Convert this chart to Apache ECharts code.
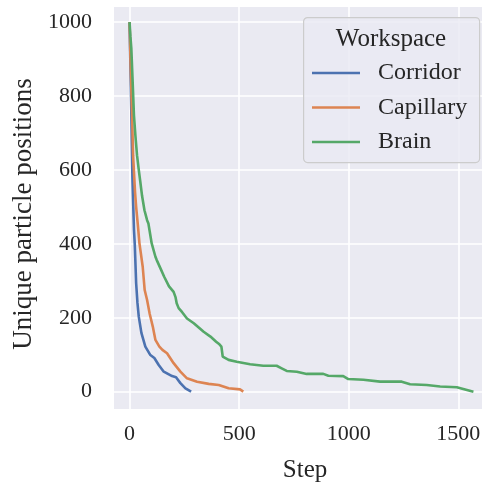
<!DOCTYPE html>
<html>
<head>
<meta charset="utf-8">
<script src="https://cdn.jsdelivr.net/npm/echarts@6/dist/echarts.min.js"></script>
<style>html,body{margin:0;padding:0;background:#fff;}#c{width:482px;height:482px;}</style>
</head>
<body>
<div id="c"></div>
<script>
const seriesNames = ["Corridor", "Capillary", "Brain"];
const xTicks = [0, 500, 1000, 1500];
const yTicks = [0, 200, 400, 600, 800, 1000];

const corridorSteps = [0, 4, 7, 10, 13, 17, 20, 24, 30, 36, 42, 54, 72, 95, 113, 133, 156, 194, 212, 232, 255, 281];
const corridorVals  = [1000, 880, 790, 680, 580, 500, 440, 395, 294, 240, 203, 159, 122, 99, 91, 72, 54, 42, 39, 23, 9, 0];

const capillarySteps = [0, 5, 11, 16, 25, 30, 38, 45, 60, 69, 80, 92, 106, 118, 136, 150, 171, 201, 232, 262, 308, 361, 407, 452, 504, 519];
const capillaryVals  = [1000, 880, 760, 640, 540, 500, 450, 402, 338, 275, 248, 210, 176, 140, 122, 113, 104, 77, 54, 36, 27, 21, 18, 9, 6, 0];

const brainSteps = [0, 4, 8, 14, 20, 27, 34, 42, 49, 57, 68, 80, 86, 101, 118, 124, 140, 158, 180, 201, 210, 215, 224, 240, 262, 293, 338, 369, 395, 410, 419, 425, 452, 489, 550, 610, 671, 694, 717, 763, 808, 884, 907, 975, 998, 1067, 1143, 1242, 1280, 1356, 1417, 1493, 1531, 1569];
const brainVals  = [1000, 960, 929, 840, 748, 690, 640, 600, 568, 530, 491, 464, 455, 401, 365, 356, 335, 311, 285, 270, 255, 239, 226, 215, 198, 185, 162, 149, 135, 128, 122, 95, 86, 81, 74, 70, 70, 63, 56, 54, 48, 48, 43, 42, 34, 32, 27, 27, 20, 18, 14, 12, 6, 0];

const colors = ["#4c72b0", "#dd8452", "#55a868"];
const FONT = "Liberation Serif";
const TXT = "#262626";

function pairs(xs, ys) { return xs.map((x, i) => [x, ys[i]]); }
const allData = [pairs(corridorSteps, corridorVals), pairs(capillarySteps, capillaryVals), pairs(brainSteps, brainVals)];

const chart = echarts.init(document.getElementById('c'), null, {renderer: 'canvas'});
chart.setOption({
  animation: false,
  backgroundColor: '#ffffff',
  grid: {left: 114, right: -7, top: 7, bottom: 73, show: true, backgroundColor: '#eaeaf2', borderWidth: 0,
         containLabel: false, outerBoundsMode: 'none'},
  xAxis: {
    type: 'value', min: -71, max: 1640,
    name: 'Step', nameLocation: 'middle', nameGap: 49,
    nameTextStyle: {fontFamily: FONT, fontSize: 25, color: TXT, padding: [0, 0, 0, 7]},
    axisLine: {show: false},
    axisTick: {show: false, customValues: xTicks},
    axisLabel: {customValues: xTicks, formatter: v => String(v), fontFamily: FONT, fontSize: 22, color: TXT, margin: 14},
    splitLine: {show: true, lineStyle: {color: '#ffffff', width: 1.6}}
  },
  yAxis: {
    type: 'value', min: -47, max: 1041,
    name: 'Unique particle positions', nameLocation: 'middle', nameGap: 72,
    nameTextStyle: {fontFamily: FONT, fontSize: 27, color: TXT, padding: [0, 12, 0, 0]},
    axisLine: {show: false},
    axisTick: {show: false, customValues: yTicks},
    axisLabel: {customValues: yTicks, formatter: v => String(v), fontFamily: FONT, fontSize: 22, color: TXT, margin: 22},
    splitLine: {show: true, lineStyle: {color: '#ffffff', width: 1.6}}
  },
  legend: {
    orient: 'vertical', left: 307, top: 56,
    icon: 'rect', itemWidth: 48, itemHeight: 2.6, itemGap: 10.5,
    data: seriesNames,
    textStyle: {fontFamily: FONT, fontSize: 24, color: TXT, padding: [0, 0, 0, 13]},
    z: 5
  },
  graphic: [
    {type: 'rect', left: 303, top: 17, z: 3,
     shape: {width: 176, height: 145, r: 4},
     style: {fill: 'rgba(234,234,242,0.8)', stroke: '#cccccc', lineWidth: 1.2}},
    {type: 'text', x: 391, y: 39, z: 5,
     style: {text: 'Workspace', fontFamily: FONT, fontSize: 25, fill: TXT, textAlign: 'center', textVerticalAlign: 'middle'}}
  ],
  series: seriesNames.map((n, i) => ({
    name: n, type: 'line', data: allData[i], symbol: 'none', showSymbol: false,
    lineStyle: {color: colors[i], width: 2.6}, itemStyle: {color: colors[i]}, z: 2
  }))
});
</script>
</body>
</html>
